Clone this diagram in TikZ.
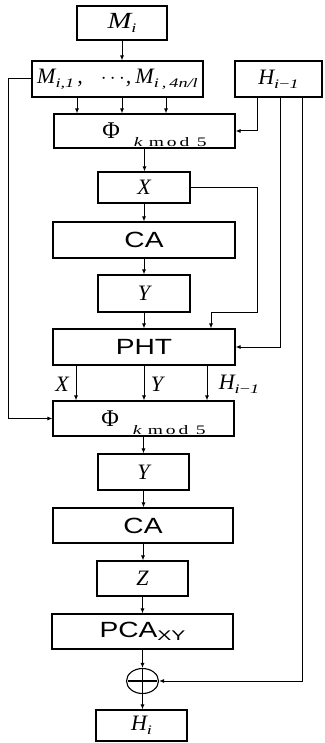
\documentclass[tikz,border=0pt]{standalone}
\usepackage{graphicx}
\usepackage{fontspec}
\setmainfont{Liberation Serif}
\setsansfont{Liberation Sans}
\usetikzlibrary{arrows.meta,shapes.geometric}
\newcommand{\lowsub}[2][-4pt]{\raisebox{#1}{\scalebox{1.4}[1]{\fontsize{13}{13}\selectfont #2}}}
\newcommand{\phisym}{\hspace{20pt}{\fontsize{24}{24}\selectfont Φ}\hspace{14pt}\raisebox{-8pt}{\scalebox{1.5}[1]{\fontsize{13}{13}\selectfont\textit{k}\hspace{4pt}m\hspace{2pt}o\hspace{2pt}d\hspace{5pt}5}}}
\newcommand{\sx}[1]{\scalebox{1.28}[1]{\fontsize{22}{22}\selectfont\sffamily #1}}
\begin{document}
\begin{tikzpicture}[x=1pt,y=-1pt,
  box/.style={draw,line width=1.1pt,inner sep=0pt,minimum height=35pt},
  wide/.style={box,minimum width=181pt},
  narrow/.style={box,minimum width=91pt},
  ital/.style={font=\fontsize{22}{22}\selectfont\itshape},
  phibox/.style={wide,text depth=0pt},
  wire/.style={line width=1pt},
  arr/.style={wire,-{Latex[length=5pt,width=4pt]}},
  lab/.style={inner sep=0pt,font=\fontsize{22}{22}\selectfont\itshape}]
\useasboundingbox (0,0) rectangle (324,743);
% boxes
\node[narrow,minimum width=90pt,minimum height=34pt,ital] (mi) at (122,23) {\scalebox{1.3}[1.05]{M}\lowsub{i}};
\node[box,minimum width=171pt,minimum height=36pt,ital] (ml) at (117.5,79)
  {M\lowsub{i,1}\hspace{3pt},\hspace{18pt}$\cdots$\hspace{1pt},\hspace{4pt}M\lowsub{i\,,\,4n/l}};
\node[box,minimum width=87pt,minimum height=36pt,ital] (hp) at (278.5,79) {H\lowsub{i\textup{−}1}};
\node[phibox,minimum height=34pt] (p1) at (144.5,131) {\phisym};
\node[narrow,minimum width=92pt,minimum height=31pt,ital] (x) at (144,187.5) {X};
\node[wide,minimum width=182pt,minimum height=36pt] (ca1) at (144,240) {\sx{CA}};
\node[narrow,minimum width=92pt,minimum height=37pt,ital] (y) at (144,293.5) {Y};
\node[wide,minimum width=182pt,minimum height=36pt] (pht) at (144,347) {\sx{PHT}};
\node[phibox] (p2) at (143.5,418.5) {\phisym};
\node[narrow,minimum height=36pt,ital] (y2) at (143.5,472) {Y};
\node[wide,minimum width=180pt] (ca2) at (143,525.5) {\sx{CA}};
\node[narrow,ital] (z) at (142.5,578.5) {Z};
\node[wide] (pca) at (142.5,631.5) {\sx{PCA}\raisebox{-3pt}{\scalebox{1.5}[1]{\fontsize{14}{14}\selectfont\sffamily XY}}};
\node[draw,ellipse,line width=1.1pt,minimum width=32pt,minimum height=25pt,inner sep=0pt] (xor) at (142.5,681) {};
\draw[line width=1.1pt] ([yshift=-1pt]xor.north) -- ([yshift=1pt]xor.south)
  ([xshift=2pt]xor.west) -- ([xshift=-2pt]xor.east);
\node[narrow,minimum height=31pt,ital] (hi) at (141.5,725.5) {H\lowsub{i}};
% labels
\node[lab] (lx) at (62,384) {X};
\node[lab] (ly) at (157,384) {Y};
\node[lab] (lh) at (239,384) {H\lowsub{i\textup{−}1}};
% connectors
\draw[arr] (mi.south) -- (mi.south |- ml.north);
\foreach \dx in {-40.5,4.5,48.5}
  \draw[arr] ([xshift=\dx pt]ml.south) -- ([xshift=\dx pt]ml.south |- p1.north);
\draw[arr] (ml.west) -- ++(-23,0) |- (p2.west);
\draw[arr] ([xshift=-21.5pt]hp.south) |- (p1.east);
\draw[arr] ([xshift=2pt]hp.south) |- (pht.east);
\draw[arr] ([xshift=23.5pt]hp.south) |- (xor.east);
\draw[arr] (p1.south) -- (p1.south |- x.north);
\draw[arr] (x.south) -- (x.south |- ca1.north);
\draw[arr] (ca1.south) -- (ca1.south |- y.north);
\draw[arr] (y.south) -- (y.south |- pht.north);
\coordinate (xr) at (257,312);
\coordinate (xl) at (211,312);
\draw[arr] (x.east) -| (xr) -- (xl) -- (xl |- pht.north);
\foreach \dx in {-68,0,63}
  \draw[arr] ([xshift=\dx pt]pht.south) -- ([xshift=\dx pt]pht.south |- p2.north);
\draw[arr] (p2.south) -- (p2.south |- y2.north);
\draw[arr] (y2.south) -- (y2.south |- ca2.north);
\draw[arr] (ca2.south) -- (ca2.south |- z.north);
\draw[arr] (z.south) -- (z.south |- pca.north);
\draw[arr] (pca.south) -- (pca.south |- xor.north);
\draw[arr] (xor.south) -- (xor.south |- hi.north);
\end{tikzpicture}
\end{document}
